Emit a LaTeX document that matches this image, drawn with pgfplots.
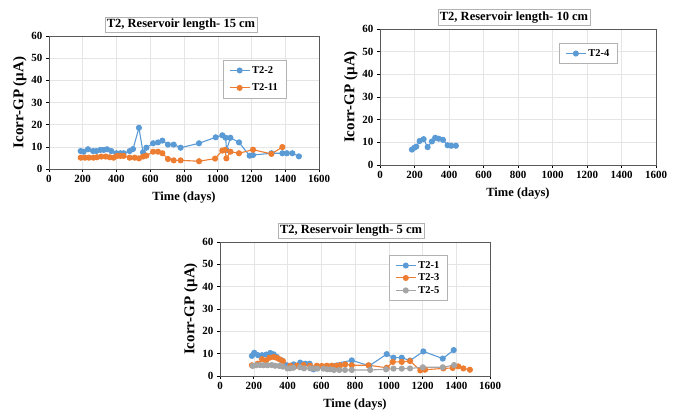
\documentclass[border=0pt]{standalone}
\usepackage{pgfplots}
\pgfplotsset{compat=1.18}
\usepackage{fontspec}
\setmainfont{Liberation Serif}
\definecolor{cblue}{HTML}{5B9BD5}
\definecolor{corange}{HTML}{ED7D31}
\definecolor{cgray}{HTML}{A5A5A5}
\pgfplotsset{
  myax/.style={
    scale only axis,
    xmin=0, xmax=1600, ymin=0, ymax=60,
    xtick={0,200,...,1600}, ytick={0,10,...,60},
    grid=major, grid style={gray!20, line width=0.5pt},
    axis line style={gray!70!black, line width=0.8pt},
    tick align=outside, tick pos=left, major tick length=3pt,
    tick style={black, line width=0.6pt},
    /pgf/number format/assume math mode=true,
    /pgf/number format/1000 sep={},
    ticklabel style={font=\fontsize{11}{12}\selectfont\bfseries},
    xlabel={Time (days)}, ylabel={Icorr-GP (µA)},
    xlabel style={font=\fontsize{12.5}{14}\selectfont\bfseries, yshift=-2pt},
    ylabel style={font=\fontsize{15}{16}\selectfont\bfseries, yshift=-2pt},
    legend cell align=left,
    legend style={font=\fontsize{10.5}{12}\selectfont\bfseries, draw=gray!60, line width=0.6pt, anchor=north west, inner xsep=6pt, inner ysep=4pt, row sep=3pt},
    legend image code/.code={\draw[mark repeat=2,mark phase=2] plot coordinates {(0pt,0pt)(10pt,0pt)(20pt,0pt)};},
    legend image post style={line width=1pt},
    every axis plot/.append style={line width=1.1pt, mark=*, mark size=2.5pt},
  },
}
\tikzset{ttl/.style={draw=gray!60, line width=0.6pt, fill=white, inner sep=2pt, font=\fontsize{12.5}{14}\selectfont\bfseries}}
\begin{document}
\begin{tikzpicture}[x=1pt,y=1pt]
\path[use as bounding box] (0,0) rectangle (681,414);
% Plot 1
\begin{axis}[myax, at={(49pt,245pt)}, anchor=south west, width=270pt, height=133pt,
  legend style={at={(0.644,0.82)}, row sep=5pt}]
\addplot[color=cblue] coordinates {
(188,8.1)(205,7.8)(231,8.9)(261,8.1)(280,8.1)(304,8.6)(324,8.6)(344,8.9)(369,8.1)(399,7.1)(423,7.1)(442,7.1)(478,8.1)(498,9.0)(533,18.6)(557,7.5)(577,9.6)(617,11.6)(646,12.0)(672,12.8)(705,11.0)(739,11.0)(780,9.6)(889,11.6)(988,14.3)(1027,15.2)(1047,14.1)(1052,8.5)(1075,14.1)(1126,12.0)(1189,6.0)(1209,6.3)(1318,7.1)(1383,7.1)(1410,7.1)(1442,7.1)(1481,5.7)};
\addlegendentry{T2-2\hspace{8pt}}
\addplot[color=corange] coordinates {
(188,5.1)(213,5.1)(237,5.1)(264,5.1)(284,5.3)(310,5.6)(336,5.6)(360,5.3)(383,5.1)(403,5.9)(423,5.9)(442,5.9)(478,5.1)(508,5.1)(533,4.8)(557,5.6)(577,6.0)(617,7.8)(646,7.8)(672,7.1)(705,4.5)(739,3.9)(780,3.9)(889,3.5)(984,4.7)(1027,8.3)(1043,8.6)(1051,4.8)(1075,7.8)(1126,7.1)(1209,8.7)(1318,6.8)(1383,9.9)};
\addlegendentry{T2-11\hspace{4pt}}
\end{axis}
\node[ttl] at (181,389) {T2, Reservoir length- 15 cm};
% Plot 2
\begin{axis}[myax, at={(380pt,249pt)}, anchor=south west, width=276pt, height=136pt,
  legend style={at={(0.649,0.897)}}]
\addplot[color=cblue] coordinates {
(185,6.8)(199,7.6)(210,8.1)(230,10.6)(253,11.4)(276,7.9)(301,10.4)(320,12.0)(340,11.6)(365,11.1)(392,8.7)(413,8.5)(440,8.5)};
\addlegendentry{T2-4\hspace{6pt}}
\end{axis}
\node[ttl] at (514,396.5) {T2, Reservoir length- 10 cm};
% Plot 3
\begin{axis}[myax, at={(220pt,38pt)}, anchor=south west, width=270pt, height=134pt,
  legend style={at={(0.626,0.903)}, row sep=0pt}]
\addplot[color=cblue] coordinates {
(189,9.0)(203,10.4)(225,9.3)(249,9.3)(274,9.6)(298,10.3)(318,9.7)(337,8.5)(367,7.0)(396,4.8)(436,5.2)(475,6.0)(505,5.5)(531,5.5)(554,3.0)(574,4.0)(781,7.0)(885,4.6)(988,9.8)(1028,8.2)(1077,8.2)(1126,6.9)(1205,11.0)(1320,7.8)(1385,11.6)};
\addlegendentry{T2-1\hspace{14pt}}
\addplot[color=corange] coordinates {
(189,4.8)(223,5.5)(249,7.5)(274,7.0)(294,8.2)(318,8.5)(337,8.1)(353,7.5)(373,6.7)(416,4.6)(455,4.6)(495,4.9)(534,4.6)(574,4.6)(603,4.5)(633,4.6)(662,4.6)(692,4.6)(712,4.8)(742,5.2)(781,4.8)(880,4.8)(988,3.7)(1024,6.3)(1077,6.3)(1126,6.7)(1187,2.5)(1215,2.8)(1324,3.4)(1379,3.6)(1412,4.3)(1442,3.4)(1481,2.8)};
\addlegendentry{T2-3\hspace{14pt}}
\addplot[color=cgray] coordinates {
(194,4.5)(214,4.8)(237,4.9)(257,4.8)(281,4.8)(306,4.9)(326,4.6)(352,4.5)(372,4.2)(399,3.4)(415,3.4)(435,3.7)(474,3.9)(498,3.4)(534,3.4)(553,3.4)(577,3.3)(613,3.3)(636,3.0)(656,3.0)(676,2.7)(707,2.7)(741,2.7)(781,2.7)(890,2.7)(984,3.0)(1028,3.3)(1077,3.3)(1126,3.4)(1202,3.9)(1320,3.9)(1387,4.9)};
\addlegendentry{T2-5\hspace{14pt}}
\end{axis}
\node[ttl] at (351,183) {T2, Reservoir length- 5 cm};
\end{tikzpicture}
\end{document}
